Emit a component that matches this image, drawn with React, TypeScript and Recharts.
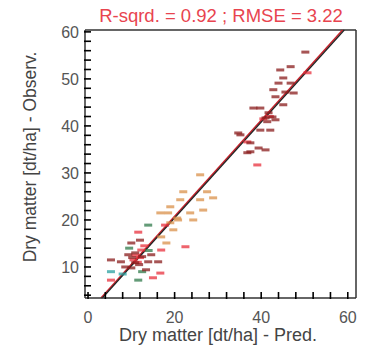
import React from 'react';
import { ScatterChart, Scatter, XAxis, YAxis, ReferenceLine } from 'recharts';

// observed vs predicted, grouped by label colour
const darkRedPts = [
  { x: 50.2, y: 55.7 }, { x: 46.8, y: 52.6 }, { x: 44.4, y: 51.9 }, { x: 45.1, y: 50.2 },
  { x: 44.0, y: 49.1 }, { x: 46.8, y: 49.1 }, { x: 42.8, y: 47.7 }, { x: 45.6, y: 47.2 },
  { x: 47.5, y: 47.0 }, { x: 43.3, y: 46.2 }, { x: 45.1, y: 44.5 }, { x: 38.2, y: 43.8 },
  { x: 39.8, y: 43.8 }, { x: 41.7, y: 42.8 }, { x: 42.6, y: 41.9 }, { x: 41.0, y: 41.7 },
  { x: 43.3, y: 41.3 }, { x: 41.4, y: 40.9 }, { x: 42.1, y: 39.1 }, { x: 39.8, y: 39.1 },
  { x: 35.2, y: 38.1 }, { x: 37.5, y: 36.4 }, { x: 39.4, y: 35.3 }, { x: 41.0, y: 34.9 },
  { x: 36.8, y: 34.3 }, { x: 34.7, y: 38.5 }, { x: 37.5, y: 34.5 },
  { x: 12.0, y: 15.7 }, { x: 10.0, y: 15.1 }, { x: 9.3, y: 12.6 }, { x: 5.3, y: 11.5 },
  { x: 7.6, y: 11.1 }, { x: 13.9, y: 11.1 }, { x: 10.0, y: 9.8 }, { x: 13.4, y: 9.4 },
  { x: 10.9, y: 10.9 }, { x: 8.6, y: 10.0 }, { x: 14.6, y: 12.6 }, { x: 10.9, y: 13.0 },
  { x: 12.5, y: 12.2 }, { x: 11.8, y: 10.5 }, { x: 10.2, y: 12.0 }, { x: 16.2, y: 11.1 },
];
const redPts = [
  { x: 50.7, y: 51.3 }, { x: 39.1, y: 31.7 }, { x: 36.8, y: 36.6 }, { x: 40.5, y: 41.5 },
  { x: 42.0, y: 42.0 }, { x: 22.5, y: 14.3 }, { x: 16.9, y: 13.6 }, { x: 17.8, y: 18.9 },
  { x: 11.6, y: 17.4 }, { x: 12.3, y: 13.6 }, { x: 11.0, y: 12.5 }, { x: 12.0, y: 12.0 },
  { x: 10.5, y: 11.5 }, { x: 15.0, y: 7.7 }, { x: 5.3, y: 7.2 }, { x: 16.7, y: 8.7 },
  { x: 13.0, y: 14.5 }, { x: 11.5, y: 11.0 },
];
const orangePts = [
  { x: 25.9, y: 29.6 }, { x: 27.5, y: 26.0 }, { x: 22.0, y: 26.0 }, { x: 28.9, y: 24.7 },
  { x: 21.3, y: 24.3 }, { x: 25.9, y: 24.3 }, { x: 19.0, y: 22.8 }, { x: 26.6, y: 22.1 },
  { x: 23.6, y: 21.5 }, { x: 16.7, y: 21.5 }, { x: 20.6, y: 20.4 }, { x: 24.3, y: 20.0 },
  { x: 19.0, y: 19.4 }, { x: 20.8, y: 20.0 }, { x: 18.5, y: 21.5 }, { x: 19.7, y: 17.9 },
  { x: 18.1, y: 15.1 }, { x: 16.9, y: 16.4 },
];
const greenPts = [
  { x: 13.9, y: 18.9 }, { x: 11.6, y: 7.2 }, { x: 14.0, y: 13.5 }, { x: 12.5, y: 9.0 }, { x: 9.5, y: 14.0 },
];
const tealPts = [{ x: 5.3, y: 9.0 }, { x: 8.0, y: 8.5 }];

// fitted line (black) and the red one under it
const blackLine = [{ x: 3.3, y: 3.4 }, { x: 59.2, y: 60.4 }];
const redLine = [{ x: 3.0, y: 3.4 }, { x: 58.8, y: 60.4 }];

const xDomain = [-0.7, 61.9];
const yDomain = [3.4, 60.4];
const xTicks = [0, 4, 8, 12, 16, 20, 24, 28, 32, 36, 40, 44, 48, 52, 56, 60];
const yTicks = [4, 6, 8, 10, 12, 14, 16, 18, 20, 22, 24, 26, 28, 30, 32, 34, 36, 38, 40, 42, 44, 46, 48, 50, 52, 54, 56, 58, 60];

const title = 'R-sqrd. = 0.92 ; RMSE = 3.22';
const xLabel = 'Dry matter [dt/ha] - Pred.';
const yLabel = 'Dry matter [dt/ha] - Observ.';

const font = '"Liberation Sans", Arial, sans-serif';

function LabelMark(props: any) {
  const { cx, cy, fill } = props;
  if (cx == null || cy == null) return null;
  return <rect x={cx - 4} y={cy - 1.5} width={8} height={3} fill={fill} opacity={0.75} />;
}

// ticks point into the plot; the label sits outside
function XTick(props: any) {
  const { x, y, payload } = props;
  const v = payload.value;
  const axisY = y - 14;
  return (
    <g>
      <line x1={x} x2={x} y1={axisY + 1} y2={axisY - 6} stroke="#000" strokeWidth={1.6} />
      {v % 20 === 0 && (
        <text x={x} y={y} dy="0.71em" textAnchor="middle" fontSize={16} fill="#555" fontFamily={font}>
          {v}
        </text>
      )}
    </g>
  );
}

function YTick(props: any) {
  const { x, y, payload } = props;
  const v = payload.value;
  const axisX = x + 6;
  return (
    <g>
      <line x1={axisX - 1} x2={axisX + 6} y1={y} y2={y} stroke="#000" strokeWidth={1.6} />
      {v % 10 === 0 && (
        <text x={x} y={y} dy="0.355em" textAnchor="end" fontSize={16} fill="#555" fontFamily={font}>
          {v}
        </text>
      )}
    </g>
  );
}

export default function App() {
  return (
    <div style={{ position: 'absolute', left: 0, top: 0, width: 366, height: 348, background: '#fff' }}>
      <ScatterChart width={366} height={348} margin={{ top: 30, right: 10, bottom: 30, left: 45 }}>
        {/* top and right sides of the frame */}
        <ReferenceLine y={yDomain[1]} stroke="#333" strokeWidth={1.5} />
        <ReferenceLine x={xDomain[1]} stroke="#333" strokeWidth={1.5} />
        <Scatter data={orangePts} fill="#d9904a" shape={LabelMark} isAnimationActive={false} />
        <Scatter data={greenPts} fill="#2f7a4a" shape={LabelMark} isAnimationActive={false} />
        <Scatter data={tealPts} fill="#2aa0a0" shape={LabelMark} isAnimationActive={false} />
        <Scatter data={redPts} fill="#e8303c" shape={LabelMark} isAnimationActive={false} />
        <Scatter data={darkRedPts} fill="#8a1c1c" shape={LabelMark} isAnimationActive={false} />
        <ReferenceLine segment={redLine} stroke="#c8202a" strokeWidth={1.6} />
        <ReferenceLine segment={blackLine} stroke="#222" strokeWidth={1.2} />
        <XAxis
          type="number"
          dataKey="x"
          domain={xDomain}
          ticks={xTicks}
          interval={0}
          height={20}
          tickSize={0}
          tickMargin={14}
          tick={<XTick />}
          axisLine={{ stroke: '#333', strokeWidth: 1.5 }}
          tickLine={false}
        />
        <YAxis
          type="number"
          dataKey="y"
          domain={yDomain}
          ticks={yTicks}
          interval={0}
          width={40}
          tickSize={0}
          tickMargin={6}
          tick={<YTick />}
          axisLine={{ stroke: '#333', strokeWidth: 1.5 }}
          tickLine={false}
        />
      </ScatterChart>
      <svg width={366} height={348} style={{ position: 'absolute', left: 0, top: 0, pointerEvents: 'none' }}>
        <text x={221} y={22} textAnchor="middle" fontSize={18.5} fill="#e8444f" fontFamily={font}>
          {title}
        </text>
        <text x={218} y={341} textAnchor="middle" fontSize={18} fill="#444" fontFamily={font}>
          {xLabel}
        </text>
        <text
          x={30}
          y={157}
          transform="rotate(-90 30 157)"
          textAnchor="middle"
          dominantBaseline="central"
          fontSize={17.5}
          fill="#444"
          fontFamily={font}
        >
          {yLabel}
        </text>
      </svg>
    </div>
  );
}
